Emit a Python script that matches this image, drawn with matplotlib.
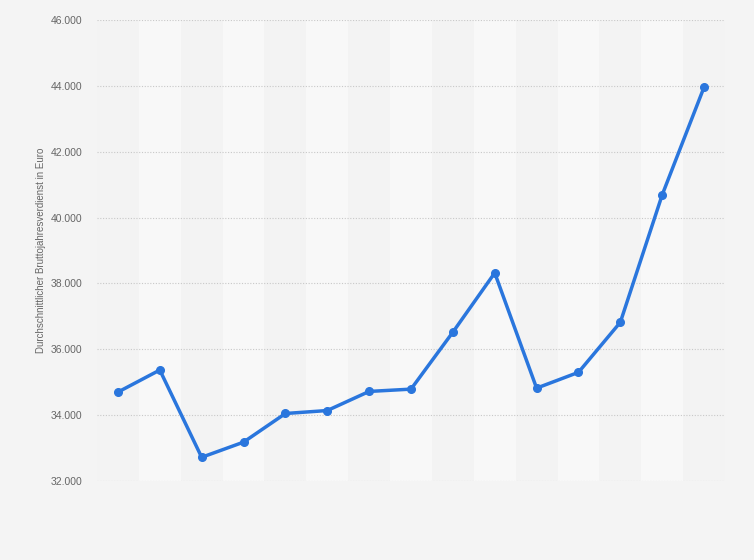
import matplotlib.pyplot as plt
from matplotlib.ticker import FuncFormatter

plt.rcParams['font.family'] = ['Liberation Sans', 'DejaVu Sans']

# Durchschnittlicher Bruttojahresverdienst, 15 Werte ohne Achsenbeschriftung
points = list(range(15))
salary = [34700, 35370, 32720, 33180, 34050, 34140, 34720, 34790,
          36520, 38320, 34820, 35300, 36820, 40690, 43960]
y_ticks = [32000, 34000, 36000, 38000, 40000, 42000, 44000, 46000]
y_label = "Durchschnittlicher Bruttojahresverdienst in Euro"

fig = plt.figure(figsize=(7.54, 5.6), dpi=100, facecolor="#f4f4f4")
ax = fig.add_axes([97 / 754, 1 - 481 / 560, 628 / 754, 461 / 560])
ax.set_facecolor("#f3f3f3")

# alternating column bands
for i in points:
    if i % 2 == 1:
        ax.axvspan(i - 0.5, i + 0.5, color="#f8f8f8", zorder=0, lw=0)

ax.plot(points, salary, color="#2a76dd", lw=2.5, marker="o", ms=5.5,
        solid_joinstyle="round", zorder=3)

ax.set_xlim(-0.5, len(points) - 0.5)
ax.set_ylim(y_ticks[0], y_ticks[-1])
ax.set_yticks(y_ticks)
ax.yaxis.set_major_formatter(FuncFormatter(lambda v, p: f"{int(v):,}".replace(",", ".")))
ax.set_xticks([])
ax.grid(axis="y", color="#c8c8c8", ls=(0, (1, 1.5)), lw=0.8, zorder=1)
ax.tick_params(axis="y", length=0, pad=10.5, labelsize=7.5, labelcolor="#666666")
ax.set_ylabel(y_label, fontsize=7, color="#666666", labelpad=3.5)
for s in ax.spines.values():
    s.set_visible(False)

fig.savefig("out.png", dpi=100, facecolor=fig.get_facecolor())
